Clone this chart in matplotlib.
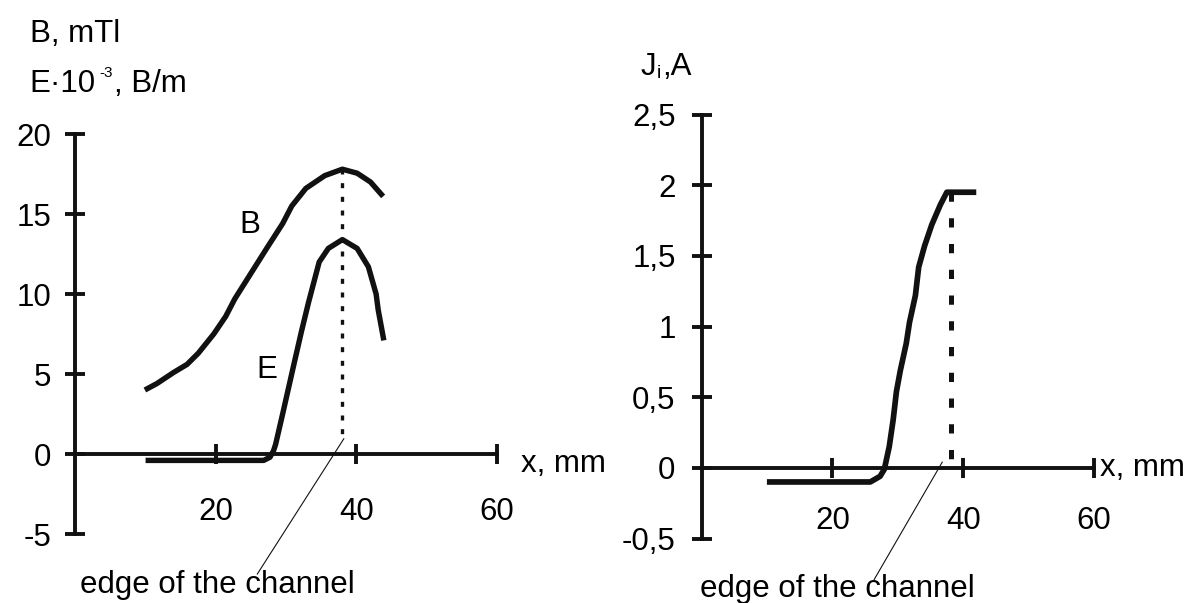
import matplotlib
matplotlib.use("Agg")
import matplotlib.pyplot as plt

plt.rcParams['font.family'] = ['Liberation Sans', 'DejaVu Sans']

# ---------------- data ----------------
b_x = [9.9, 11.6, 14.0, 15.9, 17.5, 19.7, 21.4, 22.7, 27.3, 29.5, 30.8, 32.8, 35.5, 38.0, 40.1, 42.0, 43.8]
b_y = [4.0, 4.4, 5.1, 5.6, 6.3, 7.5, 8.6, 9.7, 12.9, 14.4, 15.5, 16.6, 17.4, 17.8, 17.55, 17.0, 16.1]

e_x = [10.0, 26.8, 27.7, 28.2, 28.5, 29.5, 31.1, 32.2, 33.2, 34.7, 36.0, 38.0, 40.1, 41.7, 42.8, 43.1, 43.9]
e_y = [-0.4, -0.4, -0.2, 0.2, 0.6, 2.5, 5.6, 7.7, 9.5, 12.0, 12.85, 13.4, 12.85, 11.7, 10.0, 9.0, 7.1]

j_x = [10.0, 25.8, 27.3, 27.95, 28.7, 29.3, 29.8, 30.4, 31.3, 31.8, 32.7, 33.2, 34.1, 35.2, 36.5, 37.5, 42.0]
j_y = [-0.1, -0.1, -0.06, -0.01, 0.15, 0.34, 0.54, 0.69, 0.88, 1.03, 1.22, 1.42, 1.57, 1.72, 1.86, 1.95, 1.95]

left_yticks = [-5, 0, 5, 10, 15, 20]
left_ylabels = ['-5', '0', '5', '10', '15', '20']
right_yticks = [-0.5, 0, 0.5, 1, 1.5, 2, 2.5]
right_ylabels = ['-0,5', '0', '0,5', '1', '1,5', '2', '2,5']
xticks = [20, 40, 60]
xlabels = ['20', '40', '60']

edge_left_x = 38.0       # channel edge, mm
edge_left_top = 17.8
edge_left_bot = 0.9
edge_right_x = 38.1
edge_right_top = 1.95
edge_right_bot = 0.0
pointer_left = ([38.2, 25.9], [0.95, -7.5])
pointer_right = ([36.8, 26.4], [0.04, -0.79])

# ---------------- figure ----------------
W, H = 1185, 603
fig = plt.figure(figsize=(W / 100, H / 100), dpi=100)
FS = 22.5
INK = '#111111'


def px_axes(x0, x1, y_top, y_bot):
    return fig.add_axes([x0 / W, 1 - y_bot / H, (x1 - x0) / W, (y_bot - y_top) / H])


def ftext(x, y, s, **kw):
    kw.setdefault('fontsize', FS)
    kw.setdefault('va', 'baseline')
    kw.setdefault('ha', 'left')
    fig.text(x / W, 1 - y / H, s, color='black', **kw)


def style_axes(ax, xlim, ylim, yticks, ylabels, xpad, ypad):
    ax.set_xlim(*xlim)
    ax.set_ylim(*ylim)
    ax.patch.set_visible(False)
    for s in ('top', 'right'):
        ax.spines[s].set_visible(False)
    for s in ('left', 'bottom'):
        ax.spines[s].set_position(('data', 0))
        ax.spines[s].set_linewidth(2.8)
        ax.spines[s].set_color(INK)
    ax.set_xticks(xticks)
    ax.set_xticklabels(xlabels)
    ax.set_yticks(yticks)
    ax.set_yticklabels(ylabels)
    ax.tick_params(axis='both', direction='inout', length=14.4, width=2.8,
                   color=INK, labelsize=FS, labelcolor='black')
    ax.tick_params(axis='x', pad=xpad)
    ax.tick_params(axis='y', pad=ypad)


# ----- left panel -----
axL = px_axes(75.3, 497.0, 134.0, 534.0)
style_axes(axL, (0, 60), (-5, 20), left_yticks, left_ylabels, xpad=24, ypad=10)
axL.plot(b_x, b_y, color=INK, lw=3.9, solid_joinstyle='round', solid_capstyle='butt')
axL.plot(e_x, e_y, color=INK, lw=3.9, solid_joinstyle='round', solid_capstyle='butt')
axL.plot([edge_left_x, edge_left_x], [edge_left_top, edge_left_bot], color=INK, lw=2.4,
         linestyle=(0, (1.5, 2.6)), dash_capstyle='butt')
axL.plot(*pointer_left, color=INK, lw=0.8, clip_on=False)

ftext(29.5, 42, 'B, mTl')
ftext(29.5, 92, 'E·10')
ftext(99.5, 77, '-3', fontsize=11)
ftext(114.5, 92, ', B/m')
ftext(239.5, 233, 'B')
ftext(256, 378, 'E')
ftext(521, 472.5, 'x, mm')
ftext(80, 593, 'edge of the channel')

# ----- right panel -----
axR = px_axes(701.5, 1094.0, 114.5, 538.5)
style_axes(axR, (0, 60), (-0.5, 2.5), right_yticks, right_ylabels, xpad=20, ypad=11.5)
axR.plot(j_x, j_y, color=INK, lw=4.1, solid_joinstyle='round', solid_capstyle='butt')
axR.plot([edge_right_x, edge_right_x], [edge_right_top, edge_right_bot], color=INK, lw=3.6,
         linestyle=(0, (1.85, 3.3)), dash_capstyle='butt')
axR.plot(*pointer_right, color=INK, lw=0.8, clip_on=False)

ftext(641, 75, 'J')
ftext(656.5, 78, 'i', fontsize=14)
ftext(662, 75, ',A')
ftext(1100, 476, 'x, mm')
ftext(700, 597, 'edge of the channel')

fig.savefig('out.png', dpi=100)
